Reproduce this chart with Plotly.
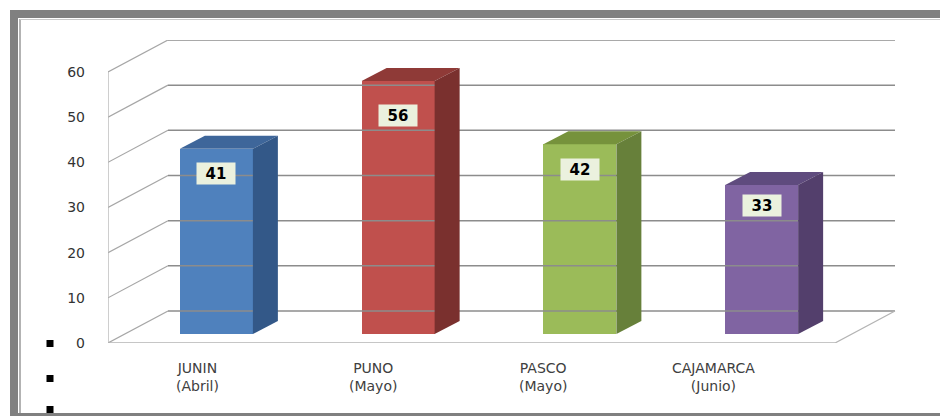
import plotly.graph_objects as go

# ---------------- data ----------------
categories = ["JUNIN", "PUNO", "PASCO", "CAJAMARCA"]
months = ["(Abril)", "(Mayo)", "(Mayo)", "(Junio)"]
values = [41, 56, 42, 33]
y_ticks = [0, 10, 20, 30, 40, 50, 60]

# ---------------- style ----------------
front_colors = ["#4F81BD", "#C0504D", "#9BBB59", "#8064A2"]
top_colors = ["#3E669A", "#8F3A37", "#76923C", "#5F4B7E"]
side_colors = ["#335888", "#7A302E", "#67803A", "#533F6C"]

W, H = 940, 416
L, R, T, B = 108, 43, 40, 73
PW, PH = W - L - R, H - T - B
XPX = 181.75                 # px per category
YPX = 4.517                  # px per value unit
X0 = -0.5
X1 = X0 + PW / XPX
Y1 = PH / YPX

DX = 60 / XPX                # full depth offset (data units)
DY = 32 / YPX
BDX, BDY = 17.5 / XPX, 9 / YPX    # bar front face offset
SDX, SDY = 25 / XPX, 13 / YPX     # bar depth
BW = 73 / XPX
LABEL_FRAC = 0.865
cat_label_px = [197, 373, 543, 713]


def pxx(p):
    return (p - L) / PW


def pxy(p):
    return (H - B - p) / PH


fig = go.Figure()

# ---------- gridlines / walls ----------
nmax = len(categories) - 0.5
diag_x, diag_y, back_x, back_y = [], [], [], []
for t in y_ticks:
    diag_x += [X0, X0 + DX, None]
    diag_y += [t, t + DY, None]
    back_x += [X0 + DX, nmax + DX, None]
    back_y += [t + DY, t + DY, None]
fig.add_trace(go.Scatter(x=diag_x, y=diag_y, mode="lines",
                         line=dict(color="#A6A6A6", width=1.2),
                         hoverinfo="skip", showlegend=False))
fig.add_trace(go.Scatter(x=back_x, y=back_y, mode="lines",
                         line=dict(color="#8C8C8C", width=1.5),
                         hoverinfo="skip", showlegend=False))
# front vertical axis + floor edges
fig.add_trace(go.Scatter(x=[X0, X0, None, X0, nmax, nmax + DX],
                         y=[y_ticks[-1], 0, None, 0, 0, DY],
                         mode="lines", line=dict(color="#B4B4B4", width=1.3),
                         hoverinfo="skip", showlegend=False))

# ---------- bars ----------
xs = [i + BDX for i in range(len(categories))]
fig.add_trace(go.Bar(x=xs, y=values, base=[BDY] * len(values), width=BW,
                     marker=dict(color=front_colors, line=dict(width=0)),
                     hoverinfo="skip", showlegend=False))
for i, v in enumerate(values):
    xl, xr = xs[i] - BW / 2, xs[i] + BW / 2
    top = BDY + v
    fig.add_trace(go.Scatter(
        x=[xl, xr, xr + SDX, xl + SDX, xl],
        y=[top, top, top + SDY, top + SDY, top],
        mode="lines", fill="toself", fillcolor=top_colors[i],
        line=dict(width=0, color=top_colors[i]),
        hoverinfo="skip", showlegend=False))
    fig.add_trace(go.Scatter(
        x=[xr, xr, xr + SDX, xr + SDX, xr],
        y=[BDY, top, top + SDY, BDY + SDY, BDY],
        mode="lines", fill="toself", fillcolor=side_colors[i],
        line=dict(width=0, color=side_colors[i]),
        hoverinfo="skip", showlegend=False))

annotations = []
# data labels
for i, v in enumerate(values):
    annotations.append(dict(
        x=xs[i], y=BDY + LABEL_FRAC * v, xref="x", yref="y",
        text=f"<b>{v}</b>", showarrow=False,
        font=dict(family="DejaVu Sans", size=15, color="#000000"),
        bgcolor="#EBF1DE", width=34, height=17, borderpad=2))
# category labels
for i, c in enumerate(categories):
    annotations.append(dict(
        x=pxx(cat_label_px[i]), y=pxy(377), xref="paper", yref="paper",
        text=f"{c}<br>{months[i]}", showarrow=False,
        xanchor="center", yanchor="middle",
        font=dict(family="DejaVu Sans", size=14, color="#404040")))

shapes = []
GRAY = "#808080"
# frame
shapes.append(dict(type="rect", xref="paper", yref="paper",
                   x0=pxx(10), x1=pxx(945), y0=pxy(10), y1=pxy(18),
                   fillcolor=GRAY, line=dict(width=0), layer="above"))
shapes.append(dict(type="rect", xref="paper", yref="paper",
                   x0=pxx(10), x1=pxx(18), y0=pxy(10), y1=pxy(420),
                   fillcolor=GRAY, line=dict(width=0), layer="above"))
shapes.append(dict(type="rect", xref="paper", yref="paper",
                   x0=pxx(10), x1=pxx(945), y0=pxy(413), y1=pxy(420),
                   fillcolor=GRAY, line=dict(width=0), layer="above"))
shapes.append(dict(type="line", xref="paper", yref="paper",
                   x0=pxx(20), x1=pxx(20), y0=pxy(19), y1=pxy(413),
                   line=dict(color="#9A9A9A", width=1.5), layer="above"))
shapes.append(dict(type="line", xref="paper", yref="paper",
                   x0=pxx(20), x1=pxx(945), y0=pxy(19.5), y1=pxy(19.5),
                   line=dict(color="#C8C8C8", width=1), layer="above"))
# bullet squares
for cy in [343.5, 378.5, 409.5]:
    shapes.append(dict(type="rect", xref="paper", yref="paper",
                       x0=pxx(46.5), x1=pxx(53.5), y0=pxy(cy - 3.5), y1=pxy(cy + 3.5),
                       fillcolor="#000000", line=dict(width=0), layer="above"))

fig.update_layout(
    width=W, height=H,
    margin=dict(l=L, r=R, t=T, b=B, pad=0),
    paper_bgcolor="white", plot_bgcolor="white",
    bargap=0, showlegend=False,
    xaxis=dict(range=[X0, X1], showgrid=False, zeroline=False,
               showticklabels=False, showline=False, fixedrange=True),
    yaxis=dict(range=[0, Y1], showgrid=False, zeroline=False, showline=False,
               tickvals=y_ticks, ticktext=[str(t) for t in y_ticks],
               ticks="", ticklabelstandoff=22,
               tickfont=dict(family="DejaVu Sans", size=14, color="#333333"),
               fixedrange=True),
    annotations=annotations, shapes=shapes,
)

fig.write_html("out.html")
